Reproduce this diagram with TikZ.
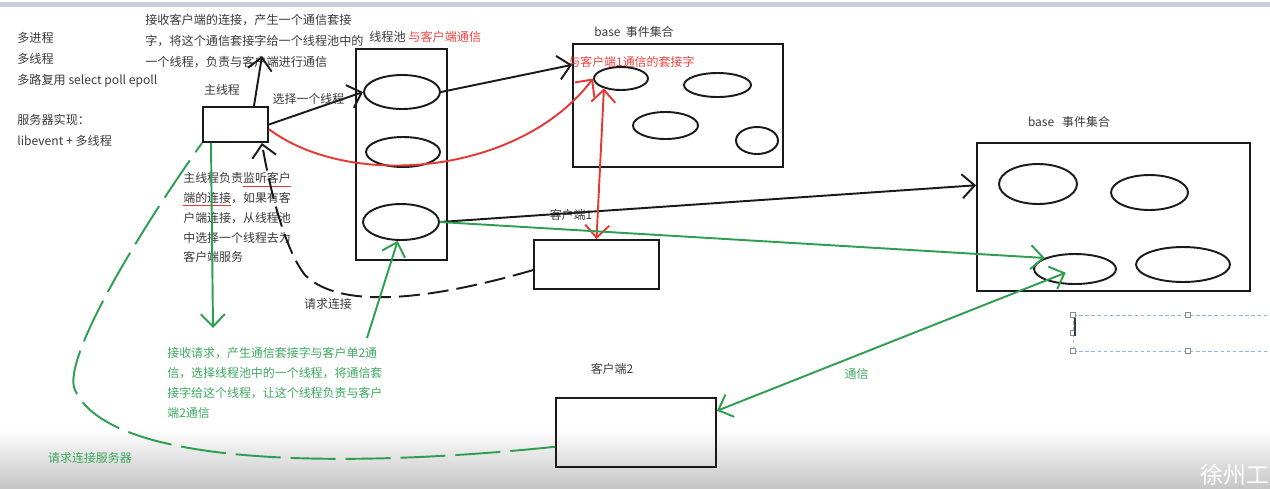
\documentclass[tikz,border=0pt]{standalone}
\usepackage{fontspec}
\setmainfont{Noto Sans CJK SC}
\usetikzlibrary{arrows.meta,shapes.geometric}
\definecolor{tinta}{HTML}{1A1A1A}
\definecolor{grafite}{HTML}{3A3A3A}
\definecolor{verde}{HTML}{2E9E50}
\definecolor{verdetxt}{HTML}{3DA860}
\definecolor{vermelho}{HTML}{E53935}
\definecolor{vermelhotxt}{HTML}{F2433D}
\definecolor{faixa}{HTML}{C9CEDB}
\definecolor{fundo}{HTML}{C6C6C6}
\definecolor{selecao}{HTML}{8DB6E6}
\definecolor{cinzaclaro}{HTML}{8A8A8A}
\newcommand{\sublinhado}[1]{{\color{vermelho}\underline{\color{grafite}#1}}}

\begin{document}
\begin{tikzpicture}[x=0.02cm, y=-0.02cm,
  >={Straight Barb[length=2.5mm, width=4.8mm]},
  caixa/.style={draw=tinta, line width=1.1pt, inner sep=0pt},
  bolha/.style={ellipse, draw=tinta, line width=1.1pt, inner sep=0pt},
  nota/.style={inner sep=0pt, anchor=north west, align=left, text=grafite,
               font=\fontsize{6.9}{12}\selectfont},
  rotulo/.style={inner sep=0pt, text=grafite, font=\fontsize{6.8}{8}\selectfont},
  seta/.style={->, line width=1.1pt, tinta},
  setavermelha/.style={seta, vermelho},
  setaverde/.style={seta, verde}
]
\useasboundingbox (0,0) rectangle (1270,488);
% fundo do ecra
\fill[faixa] (0,2) rectangle (1270,7);
\shade[top color=white, bottom color=fundo] (0,428) rectangle (1270,488);

% textos soltos
\node[nota] (modelos) at (17,32) {多进程\\多线程\\多路复用 select poll epoll};
\node[nota] (servidor) at (17,114) {服务器实现：\\libevent + 多线程};
\node[nota] (aceita) at (145,14)
  {接收客户端的连接，产生一个通信套接\\字，将这个通信套接字给一个线程池中的\\一个线程，负责与客户端进行通信};
\node[nota, font=\fontsize{6.8}{11.3}\selectfont] (funcao) at (183,172)
  {主线程负责\sublinhado{监听客户}\\\sublinhado{端的连接}，如果有客\\户端连接，从线程池\\中选择一个线程去为\\客户端服务};
\node[nota, text=verdetxt, font=\fontsize{6.8}{11.3}\selectfont] (recebe) at (167,347)
  {接收请求，产生通信套接字与客户单2通\\信，选择线程池中的一个线程，将通信套\\接字给这个线程，让这个线程负责与客户\\端2通信};

% thread principal
\node[rotulo] (lblprincipal) at (222,90) {主线程};
\node[caixa, minimum width=1.3cm, minimum height=0.7cm] (principal) at (235.5,124.5) {};

% pool de threads
\node[nota, anchor=west] (lblpool) at (369,37) {线程池 \textcolor{vermelhotxt}{与客户端通信}};
\node[caixa, minimum width=1.82cm, minimum height=4.22cm] (pool) at (401.5,154.5) {};
\node[bolha, minimum width=1.52cm, minimum height=0.68cm] (e1) at (402,92) {};
\node[bolha, minimum width=1.48cm, minimum height=0.6cm] (e2) at (403,152) {};
\node[bolha, minimum width=1.52cm, minimum height=0.72cm] (e3) at (401,222) {};

% base 1
\node[rotulo] (lblbase1) at (634,32) {base\ \ 事件集合};
\node[caixa, minimum width=4.2cm, minimum height=2.46cm] (base1) at (678,105.5) {};
\node[rotulo, anchor=west, text=vermelhotxt] (lblsocket) at (568,62) {与客户端1通信的套接字};
\node[bolha, minimum width=1.08cm, minimum height=0.46cm] (b1a) at (621,78.5) {};
\node[bolha, minimum width=1.34cm, minimum height=0.48cm] (b1b) at (717.5,85) {};
\node[bolha, minimum width=1.3cm, minimum height=0.54cm] (b1c) at (665.5,125.5) {};
\node[bolha, minimum width=0.84cm, minimum height=0.54cm] (b1d) at (757,140.5) {};

% base 2
\node[rotulo] (lblbase2) at (1069,122) {base\ \ \ 事件集合};
\node[caixa, minimum width=5.46cm, minimum height=2.96cm] (base2) at (1113.5,217) {};
\node[bolha, minimum width=1.56cm, minimum height=0.8cm] (b2a) at (1038,184) {};
\node[bolha, minimum width=1.54cm, minimum height=0.7cm] (b2b) at (1149.5,192.5) {};
\node[bolha, minimum width=1.64cm, minimum height=0.6cm] (b2c) at (1075,269) {};
\node[bolha, minimum width=1.88cm, minimum height=0.7cm] (b2d) at (1183,264.5) {};

% clientes
\node[rotulo] (lblc1) at (571,215) {客户端1};
\node[caixa, minimum width=2.5cm, minimum height=0.98cm] (c1) at (596.5,264.5) {};
\node[rotulo] (lblc2) at (612,369) {客户端2};
\node[caixa, minimum width=3.2cm, minimum height=1.38cm] (c2) at (636,432.5) {};

% ligacoes
\coordinate (topo) at (262,56);
\coordinate (desce) at (213,328);
\coordinate (sobe) at (367,338);
\draw[seta] (principal.45) -- (topo);
\draw[seta] (principal.east) -- (e1.west)
  node[rotulo, pos=0.42, above=3pt] {选择一个线程};
\draw[seta] (e1.east) -- (base1.159);
\draw[seta] (e3.east) -- (base2.167);
\draw[seta, dash pattern=on 0.42cm off 0.16cm] (c1.-175)
  .. controls (430,300) and (340,310) .. (305,275)
  .. controls (285,250) and (270,190) .. (principal.-35);
\node[rotulo] (lblpedido) at (328,304) {请求连接};

\draw[setavermelha] (principal.-8) .. controls (350,190) and (520,175) .. (b1a.west);
\draw[setavermelha, <->] (c1.north) -- (b1a.-150);

\draw[setaverde] (e3.east) -- (b2c.160);
\draw[setaverde, <->, shorten >=0.2cm] (c2.15) -- (b2c.center)
  node[rotulo, text=verdetxt, pos=0.39, below=7pt] {通信};
\draw[setaverde] (principal.-143) -- (desce);
\draw[setaverde] (sobe) -- (e3.-100);
\draw[verde, line width=1.1pt, dash pattern=on 0.9cm off 0.2cm] (c2.-170)
  .. controls (350,468) and (110,468) .. (75,390)
  .. controls (61,360) and (140,230) .. (principal.south west);
\node[rotulo, text=verdetxt] (lblservidor) at (90,458) {请求连接服务器};

% caixa de selecao
\draw[selecao, line width=0.5pt, dash pattern=on 2pt off 1.5pt]
  (1073,315) -- (1275,315) (1073,351) -- (1275,351) (1073,315) -- (1073,351);
\foreach \hx/\hy in {1073/315, 1188/315, 1073/333, 1073/351, 1188/351}
  \draw[cinzaclaro, fill=white, line width=0.4pt] ({\hx-2.5},{\hy-2.5}) rectangle ({\hx+2.5},{\hy+2.5});
\draw[grafite, line width=0.8pt] (1075,318) -- (1075,336);

\node[anchor=west, inner sep=0pt, text=white, font=\fontsize{13}{13}\selectfont] (marca) at (1200,475) {徐州工};
\end{tikzpicture}
\end{document}
